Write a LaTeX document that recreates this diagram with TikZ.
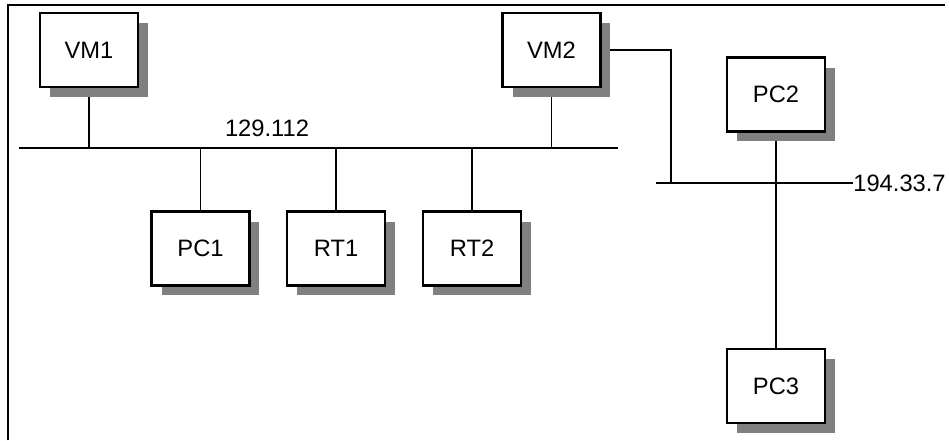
\documentclass[tikz,border=0pt]{standalone}
\usepackage{fontspec}
\setmainfont{Liberation Sans}
\usepackage{xcolor}
\definecolor{shadowgray}{RGB}{128,128,128}
\usetikzlibrary{shadows, backgrounds}

\tikzset{
  host/.style={draw=black, line width=1.2pt, fill=white, minimum width=1.96cm, minimum height=1.48cm,
    inner sep=0pt, font=\fontsize{13.5}{16}\selectfont,
    general shadow={fill=shadowgray, draw=none, shadow xshift=0.2cm, shadow yshift=-0.2cm}},
  wire/.style={draw=black, line width=0.95pt},
  netlabel/.style={font=\fontsize{13.5}{16}\selectfont, inner sep=0pt}
}

\begin{document}
\begin{tikzpicture}[x=0.02cm, y=-0.02cm]
  \useasboundingbox (0,0) rectangle (949,440);

  % Frame
  \draw[line width=1.2pt] (8,440) -- (8,5) -- (945,5);

  % Hosts
  \node[host] (VM1) at (89,50) {VM1};
  \node[host] (VM2) at (551.5,50) {VM2};
  \node[host] (PC2) at (776,94.5) {PC2};
  \node[host] (PC1) at (200.5,248.5) {PC1};
  \node[host] (RT1) at (336,248.5) {RT1};
  \node[host] (RT2) at (472,248.5) {RT2};
  \node[host] (PC3) at (776,386) {PC3};

  % Network 129.112
  \coordinate (netAwest) at (19,148);
  \coordinate (netAeast) at (618,148);
  \node[netlabel] (netAlabel) at (267,128) {129.112};

  % Network 194.33.7
  \coordinate (netBwest) at (656,183);
  \node[netlabel, anchor=west] (netBlabel) at (853,183) {194.33.7};
  \coordinate (vm2tap) at (671,183);

  \begin{scope}[on background layer]
    \draw[wire] (netAwest) -- (netAeast);
    \draw[wire] (netBwest) -- (netBlabel.west);
    \draw[wire] (VM1.south) -- (VM1.south |- netAwest);
    \draw[wire] (VM2.south) -- (VM2.south |- netAwest);
    \draw[wire] (PC1.north) -- (PC1.north |- netAwest);
    \draw[wire] (RT1.north) -- (RT1.north |- netAwest);
    \draw[wire] (RT2.north) -- (RT2.north |- netAwest);
    \draw[wire] (VM2.east) -| (vm2tap);
    \draw[wire] (PC2.south) -- (PC3.north);
  \end{scope}
\end{tikzpicture}
\end{document}
